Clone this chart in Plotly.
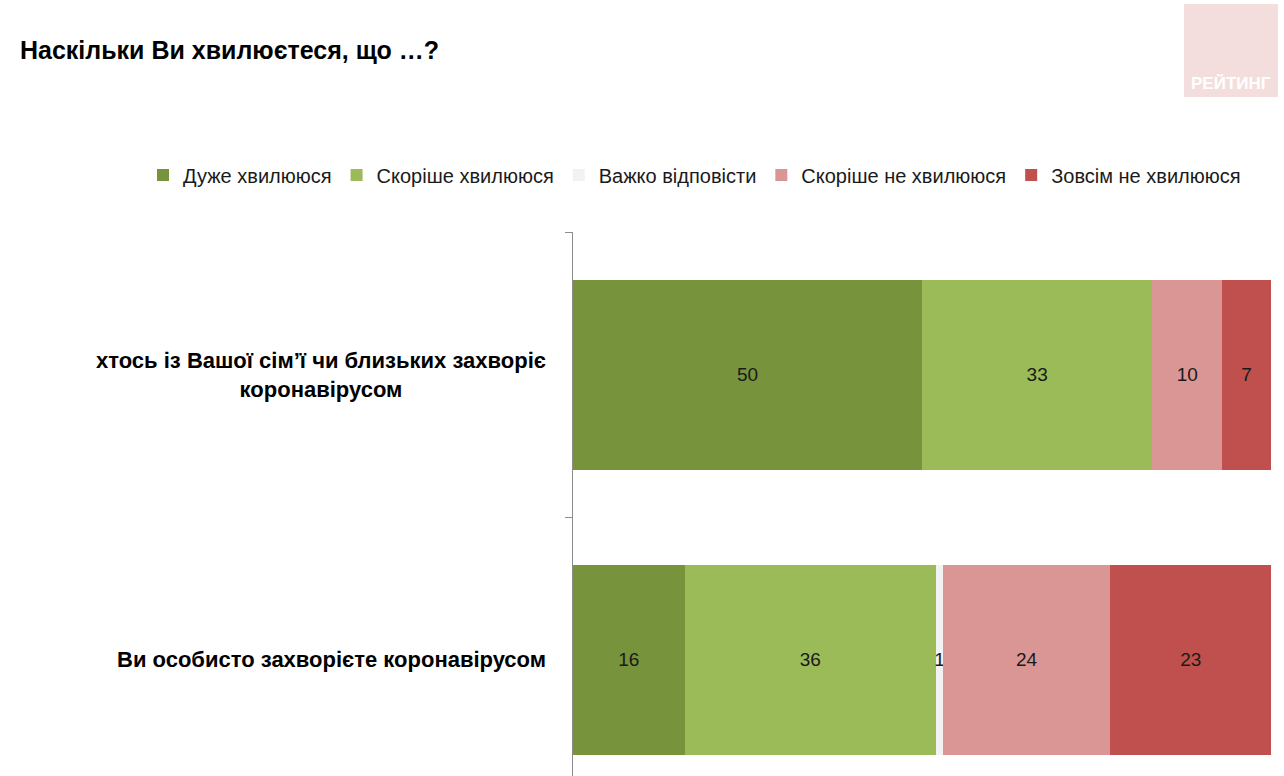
import plotly.graph_objects as go

categories = ["Ви особисто захворієте коронавірусом",
              "хтось із Вашої сім’ї чи близьких захворіє<br>коронавірусом"]
series_names = ["Дуже хвилююся", "Скоріше хвилююся", "Важко відповісти",
                "Скоріше не хвилююся", "Зовсім не хвилююся"]
very_worried = [16, 50]
rather_worried = [36, 33]
hard_to_say = [1, 0]
rather_not = [24, 10]
not_at_all = [23, 7]
colors = ["#77933C", "#9BBB59", "#F2F2F2", "#D99694", "#C0504D"]

values = [very_worried, rather_worried, hard_to_say, rather_not, not_at_all]

W, H = 1284, 776
L, R, T, B = 573, 13, 232, 0
pw, ph = W - L - R, H - T - B

def px(x):
    return (x - L) / pw

def py(y):
    return (H - B - y) / ph

fig = go.Figure()
for name, vals, col in zip(series_names, values, colors):
    fig.add_trace(go.Bar(
        y=[0, 1], x=vals, name=name, orientation="h",
        marker=dict(color=col, line=dict(width=0)),
        text=[str(v) if v else "" for v in vals],
        textposition="inside", insidetextanchor="middle",
        constraintext="none",
        textfont=dict(family="Liberation Sans, Arial", size=19, color="#1a1a1a"),
        hoverinfo="name+x",
    ))

for i, c in enumerate(categories):
    fig.add_annotation(
        x=px(548), xref="paper", xanchor="right",
        y=i, yref="y", yanchor="middle",
        text="<b>" + c + "</b>", showarrow=False, align="center",
        font=dict(family="Liberation Sans, Arial", size=22, color="#000000"),
    )

# logo
fig.add_shape(type="rect", xref="paper", yref="paper",
              x0=px(1184), x1=px(1278), y0=py(97), y1=py(4),
              fillcolor="#F4DEDD", line=dict(width=0), layer="below")
fig.add_annotation(x=px(1231), y=py(83), xref="paper", yref="paper",
                   xanchor="center", yanchor="middle",
                   text="<b>РЕЙТИНГ</b>", showarrow=False,
                   font=dict(family="Liberation Sans, Arial", size=17, color="#ffffff"))

fig.update_layout(
    width=W, height=H,
    margin=dict(l=L, r=R, t=T, b=B, pad=0),
    barmode="stack", bargap=1/3,
    paper_bgcolor="white", plot_bgcolor="white",
    title=dict(text="<b>Наскільки Ви хвилюєтеся, що …?</b>",
               xref="container", x=20 / W, xanchor="left",
               yref="container", y=(H - 50) / H, yanchor="middle",
               font=dict(family="Liberation Sans, Arial", size=25, color="#000000")),
    legend=dict(orientation="h", x=px(143), xanchor="left",
                y=py(175), yanchor="middle",
                font=dict(family="Liberation Sans, Arial", size=20, color="#1a1a1a"),
                traceorder="normal", bgcolor="rgba(0,0,0,0)"),
    xaxis=dict(range=[0, 100], visible=False, fixedrange=True),
    yaxis=dict(range=[-0.5 + (570 - ph) / 285, 1.5], showticklabels=False,
               showgrid=False, zeroline=False, showline=True,
               linecolor="#8C8C8C", linewidth=1,
               ticks="outside", ticklen=7,
               tickcolor="#8C8C8C", tickvals=[-0.5, 0.5, 1.5]),
    showlegend=True,
)

fig.write_html("out.html")
